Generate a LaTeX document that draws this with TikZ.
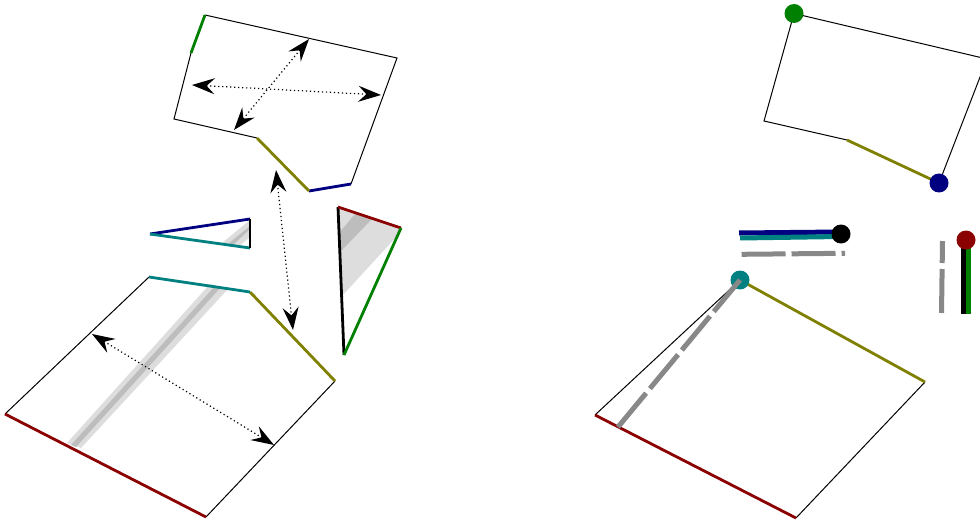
\documentclass[tikz,border=0pt]{standalone}
\usepackage{xcolor}
\usetikzlibrary{arrows.meta}
\definecolor{foldred}{HTML}{8B0000}
\definecolor{foldolive}{HTML}{808000}
\definecolor{foldteal}{HTML}{008080}
\definecolor{foldnavy}{HTML}{000080}
\definecolor{foldgreen}{HTML}{008000}
\definecolor{bandlight}{HTML}{DDDDDD}
\definecolor{banddark}{HTML}{BDBDBD}
\definecolor{seamgray}{HTML}{888888}

\begin{document}
\begin{tikzpicture}[
    x=0.75pt, y=-0.75pt,
    thinedge/.style={black, line width=0.75pt},
    foldedge/.style={line width=2.1pt},
    fatedge/.style={line width=3.75pt},
    seam/.style={seamgray, line width=3.75pt, dash pattern=on 33pt off 4.5pt},
    measure/.style={line width=0.9pt, dash pattern=on 0.9pt off 2.1pt,
                    {Stealth[length=17pt, width=12pt, inset=6pt]}-{Stealth[length=17pt, width=12pt, inset=6pt]}},
    dot/.style={circle, inner sep=0pt, minimum size=14.25pt},
]
    \clip (0,0) rectangle (980,520);

    % Corners, left
    \coordinate (qa) at (5,414);
    \coordinate (qb) at (206,517);
    \coordinate (qc) at (335,381);
    \coordinate (qd) at (250,292);
    \coordinate (qe) at (149,277);
    \coordinate (ta) at (205,15);
    \coordinate (tb) at (397,58);
    \coordinate (tc) at (351,184);
    \coordinate (td) at (309,191);
    \coordinate (te) at (257,138);
    \coordinate (tf) at (174,119);
    \coordinate (tg) at (191,53);
    \coordinate (sa) at (150,234);
    \coordinate (sb) at (250,219);
    \coordinate (sc) at (250,248);
    \coordinate (ra) at (338,207);
    \coordinate (rb) at (401,228);
    \coordinate (rc) at (344,355);

    % Bands
    \fill[bandlight] (67,443) -- (210,284) -- (228,289) -- (81,448) -- cycle;
    \fill[banddark] (71,445) -- (215,286) -- (221,287) -- (76,447) -- cycle;
    \fill[bandlight] (222,243) -- (250,220) -- (250,237) -- (238,247) -- cycle;
    \fill[banddark] (228,244) -- (250,226) -- (250,229) -- (233,245) -- cycle;
    \fill[bandlight] (ra) -- (rb) -- (398,235) -- (342,296) -- cycle;
    \fill[banddark] (355,214) -- (372,219) -- (341,251) -- (340,232) -- cycle;

    % Left sheets
    \draw[thinedge] (qe) -- (qa);
    \draw[thinedge] (qb) -- (qc);
    \draw[foldedge, foldred] (qa) -- (qb);
    \draw[foldedge, foldolive] (qc) -- (qd);
    \draw[foldedge, foldteal] (qd) -- (qe);

    \draw[thinedge] (tg) -- (tf) -- (te);
    \draw[thinedge] (ta) -- (tb) -- (tc);
    \draw[foldedge, foldgreen] (ta) -- (tg);
    \draw[foldedge, foldnavy] (tc) -- (td);
    \draw[foldedge, foldolive] (td) -- (te);

    \draw[foldedge, foldnavy] (sa) -- (sb);
    \draw[foldedge, foldteal] (sa) -- (sc);
    \draw[foldedge, black] (sb) -- (sc);

    \draw[foldedge, black] (ra) -- (rc);
    \draw[foldedge, foldred] (ra) -- (rb);
    \draw[foldedge, foldgreen] (rb) -- (rc);

    % Measures
    \coordinate (ma) at (192,85);
    \coordinate (mb) at (381,95);
    \coordinate (mc) at (309,39);
    \coordinate (md) at (234,130);
    \coordinate (me) at (276,170);
    \coordinate (mf) at (293,330);
    \coordinate (mg) at (92,334);
    \coordinate (mh) at (274,445);
    \draw[measure] (ma) -- (mb);
    \draw[measure] (mc) -- (md);
    \draw[measure] (me) -- (mf);
    \draw[measure] (mg) -- (mh);

    % Corners, right
    \coordinate (ua) at (794,13.5);
    \coordinate (ub) at (987,59);
    \coordinate (uc) at (939,183);
    \coordinate (ue) at (847,140);
    \coordinate (uf) at (764,121);
    \coordinate (va) at (595,415);
    \coordinate (vb) at (796,518);
    \coordinate (vc) at (925,382);
    \coordinate (vd) at (740,280);
    \coordinate (ka) at (739,233);
    \coordinate (kb) at (841,232);
    \coordinate (kc) at (740,238);
    \coordinate (kd) at (841,236.5);
    \coordinate (ke) at (963.5,314);
    \coordinate (kf) at (963.5,240);
    \coordinate (kg) at (968.7,314);
    \coordinate (kh) at (968.7,240);
    \coordinate (sb1) at (741.5,254.3);
    \coordinate (sb2) at (845,253.3);
    \coordinate (sc1) at (941.5,313);
    \coordinate (sc2) at (942.5,241);
    \coordinate (sa1) at (618,427);

    % Right sheets
    \draw[thinedge] (ua) -- (ub) -- (uc);
    \draw[thinedge] (ua) -- (uf) -- (ue);
    \draw[foldedge, foldolive] (ue) -- (uc);
    \draw[thinedge] (vd) -- (va);
    \draw[thinedge] (vb) -- (vc);
    \draw[foldedge, foldred] (va) -- (vb);
    \draw[foldedge, foldolive] (vc) -- (vd);
    \draw[fatedge, foldnavy] (ka) -- (kb);
    \draw[fatedge, foldteal] (kc) -- (kd);
    \draw[fatedge, black] (ke) -- (kf);
    \draw[fatedge, foldgreen] (kg) -- (kh);

    % Dots
    \node[dot, fill=foldgreen] (dgreen) at (ua) {};
    \node[dot, fill=foldnavy]  (dnavy)  at (uc) {};
    \node[dot, fill=foldteal]  (dteal)  at (vd) {};
    \node[dot, fill=black]     (dblack) at (841,234) {};
    \node[dot, fill=foldred]   (dred)   at (966,240) {};

    % Seams
    \draw[seam] (sa1) -- (dteal.center);
    \draw[seam] (sb1) -- (sb2);
    \draw[seam] (sc1) -- (sc2);
\end{tikzpicture}
\end{document}
